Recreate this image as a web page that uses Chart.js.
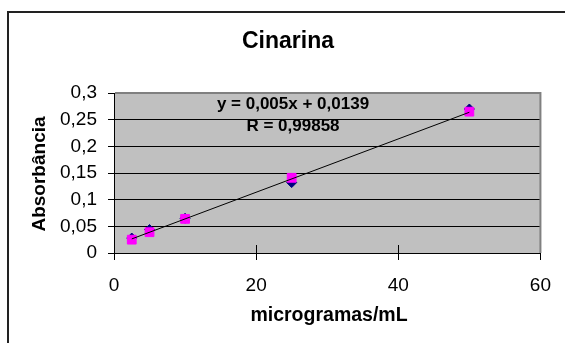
<!DOCTYPE html>
<html>
<head>
<meta charset="utf-8">
<script src="https://cdn.jsdelivr.net/npm/chart.js@4/dist/chart.umd.min.js"></script>
<style>
  html, body { margin: 0; padding: 0; background: #fff; overflow: hidden; }
  #wrap { position: relative; width: 565px; height: 343px; }
  #frame { position: absolute; left: 7px; top: 11px; width: 700px; height: 500px;
           border-left: 2px solid #222; border-top: 2px solid #222; box-sizing: border-box; }
  canvas { position: absolute; left: 0; top: 0; }
</style>
</head>
<body>
<div id="wrap">
  <div id="frame"></div>
  <canvas id="c" width="565" height="343"></canvas>
</div>
<script>
// ---- data ----
const concentrations = [2.5, 5, 10, 25, 50];
const seriesBlue = [0.028, 0.044, 0.065, 0.132, 0.270];
const seriesPink = [0.025, 0.039, 0.064, 0.141, 0.265];
const trendX = [2.5, 50];
const trendY = [0.0264, 0.2639];
const yTickValues = [0, 0.05, 0.1, 0.15, 0.2, 0.25, 0.3];
const yTickLabels = ['0', '0,05', '0,1', '0,15', '0,2', '0,25', '0,3'];
const xTickValues = [0, 20, 40, 60];
const xTickLabels = ['0', '20', '40', '60'];
const chartTitle = 'Cinarina';
const xTitle = 'microgramas/mL';
const yTitle = 'Absorbância';
const equationLines = ['y = 0,005x + 0,0139', 'R = 0,99858'];

const FONT = "'Liberation Sans', Arial, sans-serif";
Chart.defaults.font.family = FONT;
Chart.defaults.color = '#000';

const toPts = (xs, ys) => xs.map((x, i) => ({ x: x, y: ys[i] }));

const decor = {
  id: 'decor',
  beforeDraw(chart) {
    const { ctx, chartArea: a } = chart;
    ctx.save();
    ctx.fillStyle = '#C0C0C0';
    ctx.fillRect(a.left, a.top, a.right - a.left, a.bottom - a.top);
    ctx.restore();
  },
  afterDraw(chart) {
    const { ctx, chartArea: a, scales } = chart;
    ctx.save();
    // plot border (top / right) in gray
    ctx.strokeStyle = '#808080';
    ctx.lineWidth = 2;
    ctx.beginPath();
    ctx.moveTo(a.left + 1, a.top);
    ctx.lineTo(a.right, a.top);
    ctx.lineTo(a.right, a.bottom);
    ctx.stroke();
    // x tick marks crossing into the plot
    ctx.strokeStyle = '#000';
    ctx.lineWidth = 1;
    xTickValues.forEach(v => {
      const px = Math.round(scales.x.getPixelForValue(v)) + 0.5;
      if (v === xTickValues[0] || v === xTickValues[xTickValues.length - 1]) return;
      ctx.beginPath();
      ctx.moveTo(px, a.bottom - 8);
      ctx.lineTo(px, a.bottom);
      ctx.stroke();
    });
    // texts
    ctx.fillStyle = '#000';
    ctx.textAlign = 'center';
    ctx.textBaseline = 'alphabetic';
    ctx.font = 'bold 23px ' + FONT;
    ctx.fillText(chartTitle, 288, 48);
    ctx.font = 'bold 17px ' + FONT;
    ctx.fillText(equationLines[0], 293, 109);
    ctx.fillText(equationLines[1], 293, 131);
    ctx.font = 'bold 19.5px ' + FONT;
    ctx.fillText(xTitle, 329, 321);
    ctx.font = 'bold 19px ' + FONT;
    ctx.translate(45, 174);
    ctx.rotate(-Math.PI / 2);
    ctx.fillText(yTitle, 0, 0);
    ctx.restore();
  }
};

new Chart(document.getElementById('c'), {
  type: 'scatter',
  data: {
    datasets: [
      {
        type: 'line',
        data: toPts(trendX, trendY),
        borderColor: '#000',
        borderWidth: 1,
        pointRadius: 0,
        fill: false,
        showLine: true
      },
      {
        data: toPts(concentrations, seriesPink),
        pointStyle: 'rect',
        pointRadius: 6.2,
        backgroundColor: '#FF00FF',
        borderColor: '#FF00FF',
        borderWidth: 1
      },
      {
        data: toPts(concentrations, seriesBlue),
        pointStyle: 'rectRot',
        pointRadius: 5,
        backgroundColor: '#000080',
        borderColor: '#000080',
        borderWidth: 1
      }
    ]
  },
  options: {
    responsive: false,
    animation: false,
    events: [],
    layout: { padding: { top: 93, right: 23, left: 0, bottom: 0 } },
    plugins: { legend: { display: false }, title: { display: false }, tooltip: { enabled: false } },
    scales: {
      x: {
        type: 'linear',
        min: 0, max: 60,
        afterFit(s) { s.height = 90; },
        afterBuildTicks(s) { s.ticks = xTickValues.map(v => ({ value: v })); },
        ticks: {
          font: { size: 19 },
          padding: 14,
          callback: (v) => xTickLabels[xTickValues.indexOf(v)]
        },
        grid: { drawOnChartArea: false, color: '#000', tickLength: 7, tickColor: '#000' },
        border: { color: '#000', width: 1 }
      },
      y: {
        type: 'linear',
        min: 0, max: 0.3,
        afterFit(s) { s.width = 114; },
        afterBuildTicks(s) { s.ticks = yTickValues.map(v => ({ value: v })); },
        ticks: {
          font: { size: 19 },
          padding: 11,
          callback: (v) => yTickLabels[yTickValues.findIndex(t => Math.abs(t - v) < 1e-9)]
        },
        grid: { color: '#000', lineWidth: 1, tickLength: 6, tickColor: '#000' },
        border: { color: '#000', width: 1 }
      }
    }
  },
  plugins: [decor]
});
</script>
</body>
</html>
